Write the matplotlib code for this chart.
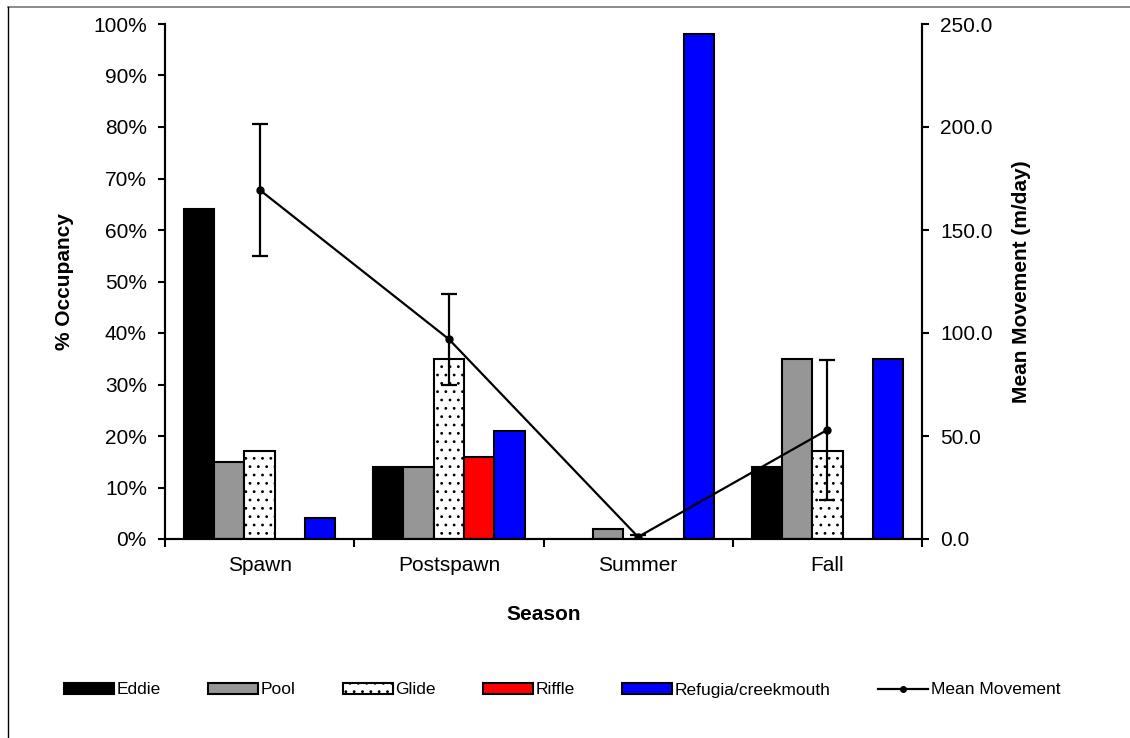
# Occupancy by habitat and mean movement per season.

import numpy as np
import matplotlib as mpl
import matplotlib.pyplot as plt
import matplotlib.patches as patches
from matplotlib.lines import Line2D

mpl.rcParams["font.family"] = ["Liberation Sans", "DejaVu Sans"]
mpl.rcParams["hatch.linewidth"] = 0.8

seasons = ["Spawn", "Postspawn", "Summer", "Fall"]
habitats = ["Eddie", "Pool", "Glide", "Riffle", "Refugia/creekmouth"]
eddie   = [64, 14, 0, 14]
pool    = [15, 14, 2, 35]
glide   = [17, 35, 0, 17]
riffle  = [0, 16, 0, 0]
refugia = [4, 21, 98, 35]
movement     = [169.5, 97.0, 1.0, 53.0]
movement_err = [32.0, 22.0, 1.0, 34.0]

colors = ["black", "#969696", "white", "red", "blue"]
hatches = [None, None, "..", None, None]


def make_fig():
    fig = plt.figure(figsize=(11.3, 7.38), dpi=100)
    ax = fig.add_axes([165 / 1130, 1 - 539 / 738, 757 / 1130, 515 / 738])
    ax2 = ax.twinx()

    x = np.arange(len(seasons))
    w = 0.16
    series = [eddie, pool, glide, riffle, refugia]
    for i, vals in enumerate(series):
        pos = x + (i - 2) * w
        for p, v in zip(pos, vals):
            if v <= 0:
                continue
            ax.bar(p, v, width=w, color=colors[i], edgecolor="black", lw=1.5,
                   hatch=hatches[i], zorder=2)

    ax2.errorbar(x, movement, yerr=movement_err, color="black", lw=1.6,
                 marker="o", ms=5, capsize=6, capthick=1.6, elinewidth=1.6, zorder=5)

    ax.set_xlim(-0.5, len(seasons) - 0.5)
    ax.set_ylim(0, 100)
    ax.set_yticks(np.arange(0, 101, 10))
    ax.set_yticklabels([f"{v}%" for v in range(0, 101, 10)])
    ax2.set_ylim(0, 250)
    ax2.set_yticks(np.arange(0, 251, 50))
    ax2.set_yticklabels([f"{v:.1f}" for v in range(0, 251, 50)])

    ax.set_xticks(x)
    ax.set_xticklabels(seasons)
    ax.set_xticks(np.arange(-0.5, len(seasons), 1), minor=True)
    ax.tick_params(axis="x", which="major", length=0, pad=12, labelsize=15)
    ax.tick_params(axis="x", which="minor", length=6, width=1.5, direction="out")
    ax.tick_params(axis="y", length=5, width=1.5, labelsize=15, pad=8)
    ax2.tick_params(axis="y", length=5, width=1.5, labelsize=15, pad=8)

    for a in (ax, ax2):
        a.spines["top"].set_visible(False)
        for s in ("left", "right", "bottom"):
            a.spines[s].set_linewidth(1.5)

    ax.set_ylabel("% Occupancy", fontsize=15, fontweight="bold", labelpad=14)
    ax2.set_ylabel("Mean Movement (m/day)", fontsize=15, fontweight="bold", labelpad=14)
    ax.set_xlabel("Season", fontsize=15, fontweight="bold", labelpad=22)

    handles = [patches.Patch(facecolor=colors[i], edgecolor="black", lw=1.5,
                             hatch=hatches[i], label=habitats[i]) for i in range(5)]
    handles.append(Line2D([0], [0], color="black", lw=1.6, marker="o", ms=4,
                          label="Mean Movement"))
    fig.legend(handles=handles, loc="center", bbox_to_anchor=(562 / 1130, 1 - 690 / 738),
               ncol=6, frameon=False, fontsize=12.5, handlelength=2.9,
               handleheight=0.65, handletextpad=0.15, columnspacing=2.7)

    # frame edges (top and left only, as in the cropped original)
    fig.add_artist(Line2D([8 / 1130, 1], [1 - 7 / 738, 1 - 7 / 738],
                          transform=fig.transFigure, color="#777777", lw=1.2))
    fig.add_artist(Line2D([8 / 1130, 8 / 1130], [0, 1 - 7 / 738],
                          transform=fig.transFigure, color="black", lw=1.0))
    fig.savefig("out.png", dpi=100)


if __name__ == "__main__":
    make_fig()
